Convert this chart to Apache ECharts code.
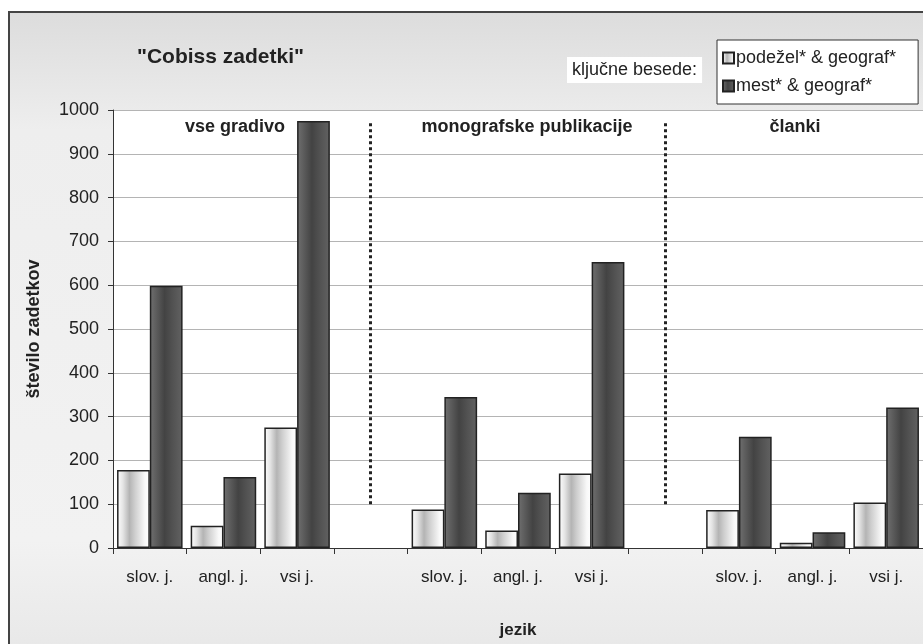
<!DOCTYPE html>
<html>
<head>
<meta charset="utf-8">
<script src="https://cdn.jsdelivr.net/npm/echarts@6/dist/echarts.min.js"></script>
<style>
html,body{margin:0;padding:0;background:#fff;}
#chart{width:923px;height:644px;}
</style>
</head>
<body>
<div id="chart"></div>
<script>
const categories = ['slov. j.','angl. j.','vsi j.','','slov. j.','angl. j.','vsi j.','','slov. j.','angl. j.','vsi j.'];
const seriesNames = ['podežel* & geograf*','mest* & geograf*'];
const podezelValues = [178, 51, 275, null, 88, 40, 170, null, 87, 12, 104];
const mestValues = [599, 162, 975, null, 345, 126, 653, null, 254, 36, 321];
const yTicks = {min: 0, max: 1000, interval: 100};
const sectionLabels = ['vse gradivo','monografske publikacije','članki'];
const separatorIndex = [3, 7];
const separatorRange = [100, 975];

const FONT = "'Liberation Sans', Arial, sans-serif";
const chart = echarts.init(document.getElementById('chart'), null, {renderer:'canvas'});

const lightFill = new echarts.graphic.LinearGradient(0,0,1,0,[
  {offset:0,color:'#ffffff'},{offset:0.18,color:'#e4e4e4'},{offset:0.38,color:'#b4b4b4'},
  {offset:0.55,color:'#cfcfcf'},{offset:0.85,color:'#f8f8f8'},{offset:1,color:'#ffffff'}]);
const darkFill = new echarts.graphic.LinearGradient(0,0,1,0,[
  {offset:0,color:'#707070'},{offset:0.2,color:'#5c5c5c'},{offset:0.45,color:'#434343'},
  {offset:0.7,color:'#525252'},{offset:1,color:'#626262'}]);

const sectionX = [235, 527, 795];

const option = {
  backgroundColor: '#ffffff',
  animation: false,
  title: {
    text: '"Cobiss zadetki"', left: 132, top: 42,
    textStyle: {fontFamily: FONT, fontSize: 21, fontWeight: 'bold', color: '#222'}
  },
  legend: {
    orient: 'vertical', left: 717, top: 40,
    data: seriesNames, icon: 'rect',
    backgroundColor: '#fff', borderColor: '#333', borderWidth: 1,
    padding: [9, 22, 9, 5], itemGap: 10, itemWidth: 11, itemHeight: 11,
    textStyle: {fontFamily: FONT, fontSize: 18, color: '#222', padding: [0,0,0,-3]}
  },
  grid: {left: 113, top: 110, width: 817, height: 441, show: true, backgroundColor: '#fff', borderWidth: 0},
  xAxis: {
    type: 'category', data: categories,
    name: 'jezik', nameLocation: 'middle', nameGap: 74,
    nameTextStyle: {fontFamily: FONT, fontSize: 17, fontWeight: 'bold', color: '#222'},
    axisLine: {lineStyle: {color: '#333', width: 1}},
    axisTick: {show: true, length: 6, lineStyle: {color: '#333'}},
    axisLabel: {fontFamily: FONT, fontSize: 17, color: '#222', margin: 21, interval: 0}
  },
  yAxis: {
    type: 'value', min: yTicks.min, max: yTicks.max, interval: yTicks.interval,
    name: 'število zadetkov', nameLocation: 'middle', nameGap: 70,
    nameTextStyle: {fontFamily: FONT, fontSize: 18, fontWeight: 'bold', color: '#222'},
    axisLine: {show: true, lineStyle: {color: '#333', width: 1}},
    axisTick: {show: true, length: 5, lineStyle: {color: '#333'}},
    axisLabel: {fontFamily: FONT, fontSize: 18, color: '#222', margin: 14, formatter: v => String(v)},
    splitLine: {lineStyle: {color: '#b4b4b4', width: 1}}
  },
  series: [
    {
      name: seriesNames[0], type: 'bar', data: podezelValues,
      barGap: '0%', barCategoryGap: '11%',
      itemStyle: {color: lightFill, borderColor: '#222', borderWidth: 1.5}
    },
    {
      name: seriesNames[1], type: 'bar', data: mestValues,
      barGap: '0%', barCategoryGap: '11%',
      itemStyle: {color: darkFill, borderColor: '#222', borderWidth: 1.5}
    },
    {
      name: 'separators', type: 'line', data: [], silent: true,
      markLine: {
        silent: true, symbol: ['none','none'], label: {show: false},
        lineStyle: {color: '#222', width: 3, type: [3,3]},
        data: separatorIndex.map(i => [{coord: [i, separatorRange[0]]}, {coord: [i, separatorRange[1]]}])
      }
    }
  ],
  graphic: [
    {
      type: 'rect', z: -100, silent: true,
      shape: {x: 9, y: 12, width: 940, height: 660},
      style: {
        fill: new echarts.graphic.LinearGradient(0,0,0,1,[
          {offset:0,color:'#dcdcdc'},{offset:0.18,color:'#eeeeee'},{offset:0.8,color:'#f2f2f2'},{offset:1,color:'#e6e6e6'}]),
        stroke: '#444', lineWidth: 2
      }
    },
    {
      type: 'text', left: 567, top: 57, silent: true,
      style: {text: 'ključne besede:', fontFamily: FONT, fontSize: 18, fill: '#222',
        backgroundColor: '#fff', padding: [4, 5, 4, 5]}
    }
  ].concat(sectionLabels.map((t, i) => ({
    type: 'text', x: sectionX[i], y: 127, silent: true,
    style: {text: t, fontFamily: FONT, fontSize: 18, fontWeight: 'bold', fill: '#222',
      textAlign: 'center', textVerticalAlign: 'middle'}
  })))
};
chart.setOption(option);
</script>
</body>
</html>
